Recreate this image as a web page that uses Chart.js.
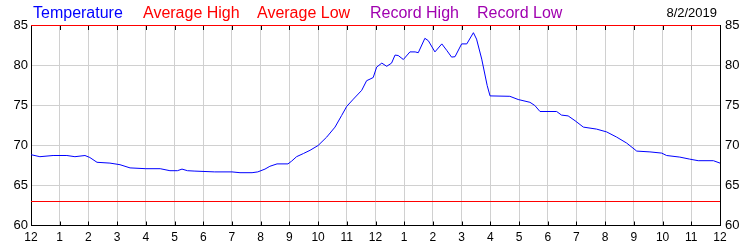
<!DOCTYPE html>
<html>
<head>
<meta charset="utf-8">
<script src="https://cdn.jsdelivr.net/npm/chart.js@4/dist/chart.umd.min.js"></script>
<style>
html,body{margin:0;padding:0;background:#fff;}
#wrap{width:750px;height:250px;position:relative;}
</style>
</head>
<body>
<div id="wrap"><canvas id="c" width="750" height="250"></canvas></div>
<script>
// ---- data ----
const hourTicks = [0,1,2,3,4,5,6,7,8,9,10,11,12,13,14,15,16,17,18,19,20,21,22,23,24];
const hourLabels = ['12','1','2','3','4','5','6','7','8','9','10','11','12','1','2','3','4','5','6','7','8','9','10','11','12'];
const tempHours = [0.00,0.31,0.77,1.25,1.53,1.88,2.05,2.30,2.75,3.10,3.45,4.00,4.50,4.84,5.10,5.26,5.45,5.71,6.40,7.00,7.28,7.70,7.90,8.15,8.32,8.57,8.95,9.08,9.25,9.49,9.72,10.00,10.30,10.59,10.82,11.00,11.23,11.52,11.69,11.81,11.92,12.04,12.22,12.39,12.56,12.68,12.79,12.97,13.20,13.38,13.49,13.72,13.84,14.07,14.31,14.48,14.65,14.77,15.00,15.18,15.41,15.52,15.70,15.89,15.99,16.68,16.97,17.38,17.55,17.73,18.31,18.48,18.71,18.95,19.24,19.70,20.05,20.40,20.75,21.10,21.56,21.97,22.14,22.60,22.94,23.24,23.77,24.00];
const tempValues = [68.85,68.6,68.75,68.75,68.6,68.75,68.5,67.9,67.8,67.6,67.2,67.1,67.1,66.85,66.85,67.05,66.85,66.8,66.7,66.7,66.6,66.6,66.7,67.05,67.4,67.7,67.7,68.05,68.6,69.0,69.4,70.0,71.05,72.3,73.75,74.9,75.8,76.9,78.1,78.3,78.5,79.8,80.3,79.9,80.3,81.3,81.25,80.75,81.7,81.7,81.6,83.4,83.1,81.7,82.7,81.9,81.05,81.1,82.7,82.7,84.1,83.3,80.8,77.5,76.2,76.15,75.75,75.4,75.0,74.25,74.25,73.8,73.7,73.1,72.3,72.05,71.7,71.05,70.3,69.3,69.2,69.05,68.75,68.55,68.3,68.1,68.1,67.8];
const avgHigh = [85, 85];
const avgLow = [63, 63];
const spanHours = [0, 24];
const yTicks = [60,65,70,75,80,85];
const legendNames = ['Temperature','Average High','Average Low','Record High','Record Low'];
const dateLabel = '8/2/2019';

// ---- styles ----
const COLORS = {temp:'#0000ff', avg:'#ff0000', rec:'#a000b0'};
const legendColors = [COLORS.temp, COLORS.avg, COLORS.avg, COLORS.rec, COLORS.rec];
const legendX = [33, 143, 257, 370, 477];
const FONT = '"Liberation Sans", Arial, sans-serif';

const pts = (xs, ys) => xs.map((x, i) => ({x, y: ys[i]}));

const overlay = {
  id: 'overlay',
  afterDraw(chart) {
    const ctx = chart.ctx;
    const a = chart.chartArea;
    const xs = chart.scales.x;
    ctx.save();
    ctx.strokeStyle = '#000';
    ctx.lineWidth = 1;
    ctx.beginPath();
    hourTicks.forEach(h => {
      const px = Math.round(xs.getPixelForValue(h)) + 0.5;
      ctx.moveTo(px, a.top + 0.5);
      ctx.lineTo(px, a.top + 4.5);
      ctx.moveTo(px, a.bottom);
      ctx.lineTo(px, a.bottom - 4);
    });
    ctx.stroke();
    // legend text
    ctx.font = '16px ' + FONT;
    ctx.textBaseline = 'alphabetic';
    ctx.textAlign = 'left';
    legendNames.forEach((n, i) => {
      ctx.fillStyle = legendColors[i];
      ctx.fillText(n, legendX[i], 18);
    });
    ctx.font = '13px ' + FONT;
    ctx.fillStyle = '#000';
    ctx.textAlign = 'right';
    ctx.fillText(dateLabel, 717, 17);
    ctx.restore();
  }
};

const yScaleBase = {
  min: 60, max: 85,
  afterBuildTicks: s => { s.ticks = yTicks.map(v => ({value: v})); },
  ticks: {color: '#000', font: {family: FONT, size: 13}},
};

new Chart(document.getElementById('c'), {
  type: 'line',
  data: {
    datasets: [
      {label: 'Average High', data: pts(spanHours, avgHigh), borderColor: COLORS.avg, borderWidth: 1, pointRadius: 0, clip: 2},
      {label: 'Average Low', data: pts(spanHours, avgLow), borderColor: COLORS.avg, borderWidth: 1, pointRadius: 0},
      {label: 'Temperature', data: pts(tempHours, tempValues), borderColor: COLORS.temp, borderWidth: 1, pointRadius: 0, tension: 0}
    ]
  },
  options: {
    responsive: false,
    animation: false,
    devicePixelRatio: 1,
    layout: {padding: {top: 25.5, left: 0, right: 0, bottom: 0}},
    plugins: {legend: {display: false}, tooltip: {enabled: false}},
    scales: {
      x: {
        type: 'linear', min: 0, max: 24,
        afterBuildTicks: s => { s.ticks = hourTicks.map(v => ({value: v})); },
        afterFit: s => { s.height = 24.5; },
        ticks: {color: '#000', font: {family: FONT, size: 12}, padding: 5, maxRotation: 0, autoSkip: false,
                callback: (v) => hourLabels[hourTicks.indexOf(v)]},
        grid: {color: '#d0d0d0', drawTicks: false},
        border: {color: '#000'}
      },
      y: Object.assign({}, yScaleBase, {
        position: 'left',
        afterFit: s => { s.width = 31; },
        ticks: Object.assign({}, yScaleBase.ticks, {padding: 3}),
        grid: {color: '#d0d0d0', drawTicks: false},
        border: {color: '#000'}
      }),
      y2: Object.assign({}, yScaleBase, {
        position: 'right',
        afterFit: s => { s.width = 30; },
        ticks: Object.assign({}, yScaleBase.ticks, {padding: 5}),
        grid: {display: false, drawTicks: false},
        border: {color: '#000'}
      })
    }
  },
  plugins: [overlay]
});
</script>
</body>
</html>
